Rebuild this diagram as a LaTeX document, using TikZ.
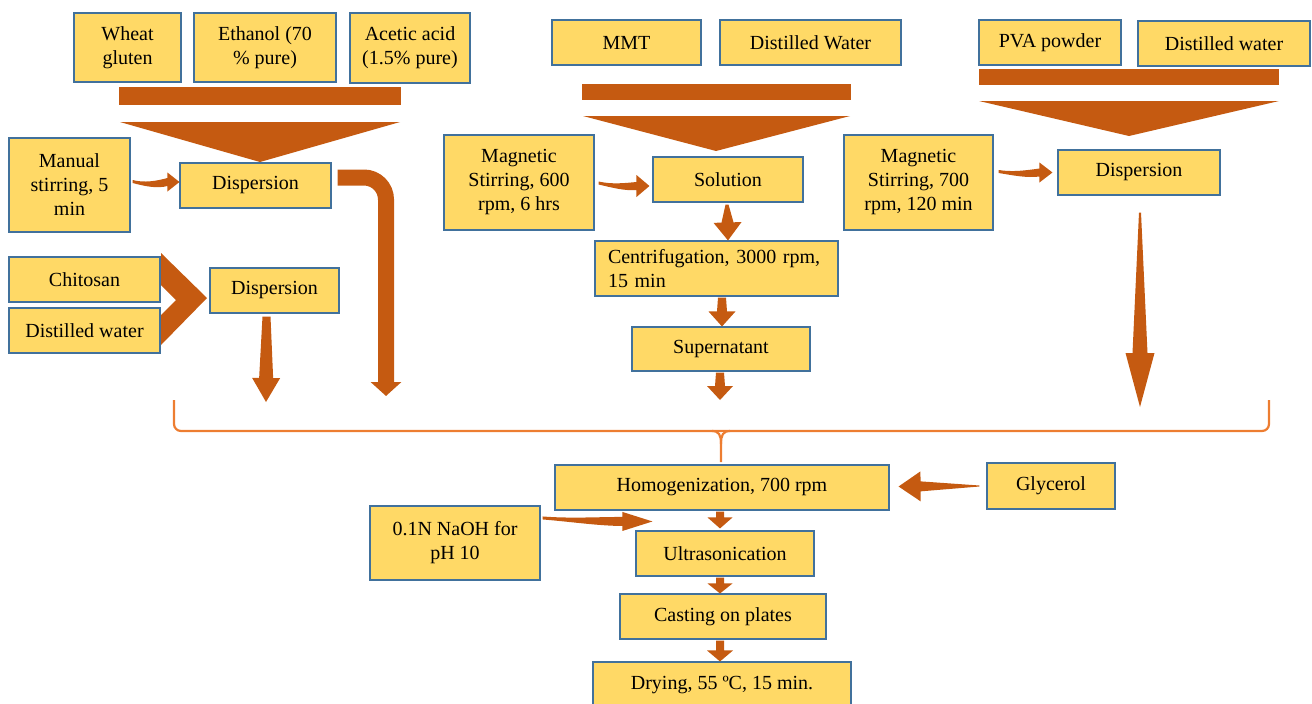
\documentclass[tikz,border=0pt]{standalone}
\usepackage{fontspec}
\setmainfont{Liberation Serif}
\usetikzlibrary{calc,arrows.meta}
\definecolor{boxf}{HTML}{FFD966}
\definecolor{boxb}{HTML}{41719C}
\definecolor{arrc}{HTML}{C55A11}
\definecolor{bracec}{HTML}{ED7D31}
\tikzset{
  box/.style={draw=boxb, fill=boxf, line width=1.1pt, font=\fontsize{20}{24}\selectfont, align=center, inner sep=2pt},
  arrfill/.style={fill=arrc, draw=none},
  bracel/.style={draw=bracec, line width=2.2pt, rounded corners=7pt}
}
% tapered straight arrow: start, end, start half-width, base half-width, head half-width, head length
\newcommand\tarrow[6]{%
  \coordinate (taA) at #1; \coordinate (taB) at #2;
  \coordinate (taC) at ($(taB)!#6!(taA)$);
  \fill[arrfill] ($(taA)!#3!90:(taB)$) -- ($(taC)!#4!-90:(taA)$) -- ($(taC)!#5!-90:(taA)$) -- (taB)
     -- ($(taC)!#5!90:(taA)$) -- ($(taC)!#4!90:(taA)$) -- ($(taA)!#3!-90:(taB)$) -- cycle;}
% tapered curved arrow, left to right: start, end, sag, base half-width, head half-width, head length
\newcommand\carr[6]{%
  \coordinate (caS) at #1; \coordinate (caE) at #2;
  \coordinate (caC) at ($(caE)+(-#6,0)$);
  \fill[arrfill] ($(caS)+(0,-1.5)$) .. controls ($(caS)!0.35!(caC)+(0,{#3-1.5})$) and ($(caS)!0.7!(caC)+(0,{#3-#4})$) .. ($(caC)+(0,-#4)$)
     -- ($(caC)+(0,-#5)$) -- (caE) -- ($(caC)+(0,#5)$) -- ($(caC)+(0,#4)$)
     .. controls ($(caS)!0.7!(caC)+(0,{#3+#4})$) and ($(caS)!0.35!(caC)+(0,{#3+1.5})$) .. ($(caS)+(0,1.5)$) -- cycle;}
\newcommand\bx[6]{\node[box, minimum width=#4pt, minimum height=#5pt] (#1) at (#2,#3) {#6};}
\begin{document}
\begin{tikzpicture}[x=1pt,y=-1pt]
\useasboundingbox (0,0) rectangle (1312,704);
% ---------- boxes ----------
\bx{wheat}{127.5}{47.5}{107}{69}{Wheat\\gluten}
\bx{eth}{265}{47.5}{142}{69}{Ethanol (70\\\% pure)}
\bx{acet}{410}{48}{120}{70}{Acetic acid\\(1.5\% pure)}
\bx{man}{69.5}{185}{121}{94}{Manual\\stirring, 5\\min}
\bx{disp1}{255.5}{185.5}{151}{45}{Dispersion}
\bx{chit}{84.5}{279.5}{151}{45}{Chitosan}
\bx{dwa}{84.5}{330.5}{151}{45}{Distilled water}
\bx{disp2}{274.5}{290.5}{129}{45}{Dispersion}
\bx{mmt}{626.5}{42.5}{149}{45}{MMT}
\bx{dwb}{810.5}{42.5}{181}{45}{Distilled Water}
\bx{magA}{519}{182.5}{150}{95}{Magnetic\\Stirring, 600\\rpm, 6 hrs}
\bx{sol}{728}{179.5}{150}{45}{Solution}
\node[box, align=left, text width=217pt, inner xsep=13pt, minimum height=55pt] (cent) at (716.5,268.5) {Centrifugation, 3000 rpm,\\15 min};
\bx{sup}{721}{349}{178}{44}{Supernatant}
\bx{pva}{1050}{42.5}{142}{45}{PVA powder}
\bx{dwc}{1224}{43.5}{172}{45}{Distilled water}
\bx{magB}{918.5}{182.5}{149}{95}{Magnetic\\Stirring, 700\\rpm, 120 min}
\bx{disp3}{1139}{172.5}{162}{45}{Dispersion}
\bx{hom}{722}{487.5}{334}{45}{Homogenization, 700 rpm}
\bx{gly}{1051}{486}{128}{46}{Glycerol}
\bx{naoh}{455}{543}{170}{74}{0.1N NaOH for\\pH 10}
\bx{ultra}{725}{553.5}{178}{45}{Ultrasonication}
\bx{cast}{723}{616.5}{206}{45}{Casting on plates}
\bx{dry}{722}{684.5}{258}{45}{Drying, 55 ºC, 15 min.}
% ---------- bars and funnels ----------
\fill[arrfill] (119,87) rectangle (401,105);
\fill[arrfill] (120,122) -- (400,122) -- (260,162) -- cycle;
\fill[arrfill] (582,84) rectangle (851,100);
\fill[arrfill] (583,116) -- (850,116) -- (716,151) -- cycle;
\fill[arrfill] (979,69) rectangle (1279,85);
\fill[arrfill] (979,101) -- (1279,101) -- (1129,136) -- cycle;
% chevron
\fill[arrfill] (161,253) -- (207,298) -- (161,345) -- (161,315) -- (176,300) -- (161,285) -- cycle;
% ---------- brace ----------
\coordinate (bA) at (266,402);
\coordinate (bB) at (386,396);
\coordinate (bC) at (720,400);
\coordinate (bD) at (1140,407);
\coordinate (bM) at (721,462);
\draw[bracel] (174,400) -- (174,431) -- (1269,431) -- (1269,400);
\draw[draw=bracec, line width=2.2pt] (712,431) .. controls (719,431) and (721,435) .. (721,444) -- (bM);
\draw[draw=bracec, line width=2.2pt] (730,431) .. controls (723,431) and (721,435) .. (721,444);
% ---------- connectors ----------
\carr{($(man.east)+(2,-3.5)$)}{($(disp1.west)+(0,-3.5)$)}{3}{4}{9.5}{12}
\carr{($(magA.east)+(4,0.5)$)}{($(sol.west)+(-3,6.5)$)}{2}{4}{11}{13}
\carr{($(magB.east)+(5,-11)$)}{($(disp3.west)+(-5,0)$)}{2}{4}{10}{13}
\carr{($(naoh.north east)+(2,12.5)$)}{($(ultra.north west)+(17,-9)$)}{1}{4.5}{9.5}{30}
\draw[draw=arrc, line width=16pt, rounded corners=22pt, -{Triangle[width=30pt,length=14pt]}] ($(disp1.east)+(6,-8)$) -| (bB);
\tarrow{($(disp2.south)+(-8,3)$)}{(bA)}{4pt}{7pt}{14pt}{24pt}
\tarrow{($(sol.south)+(-1,2)$)}{(sol.south |- cent.north)}{1.5pt}{6pt}{14pt}{18pt}
\tarrow{($(sup.north |- cent.south)+(1,1)$)}{($(sup.north)+(1,0)$)}{4pt}{5pt}{13.5pt}{15pt}
\tarrow{($(sup.south)+(-1,1)$)}{(bC)}{4pt}{5pt}{13pt}{14pt}
\tarrow{($(disp3.south)+(1,17)$)}{(bD)}{1pt}{7.5pt}{14.5pt}{54pt}
\tarrow{($(gly.west)+(-7,0)$)}{($(hom.east)+(9,-1)$)}{0.5pt}{5pt}{15pt}{22pt}
\tarrow{($(hom.south)+(-2,1)$)}{($(ultra.north)+(-5,-2)$)}{4pt}{4pt}{12.5pt}{11pt}
\tarrow{($(ultra.south)+(-5,1)$)}{($(cast.north)+(-3,0)$)}{4pt}{4pt}{12.5pt}{10pt}
\tarrow{($(cast.south)+(-3,1)$)}{($(dry.north)+(-2,0)$)}{4pt}{4pt}{13pt}{11pt}
\end{tikzpicture}
\end{document}
